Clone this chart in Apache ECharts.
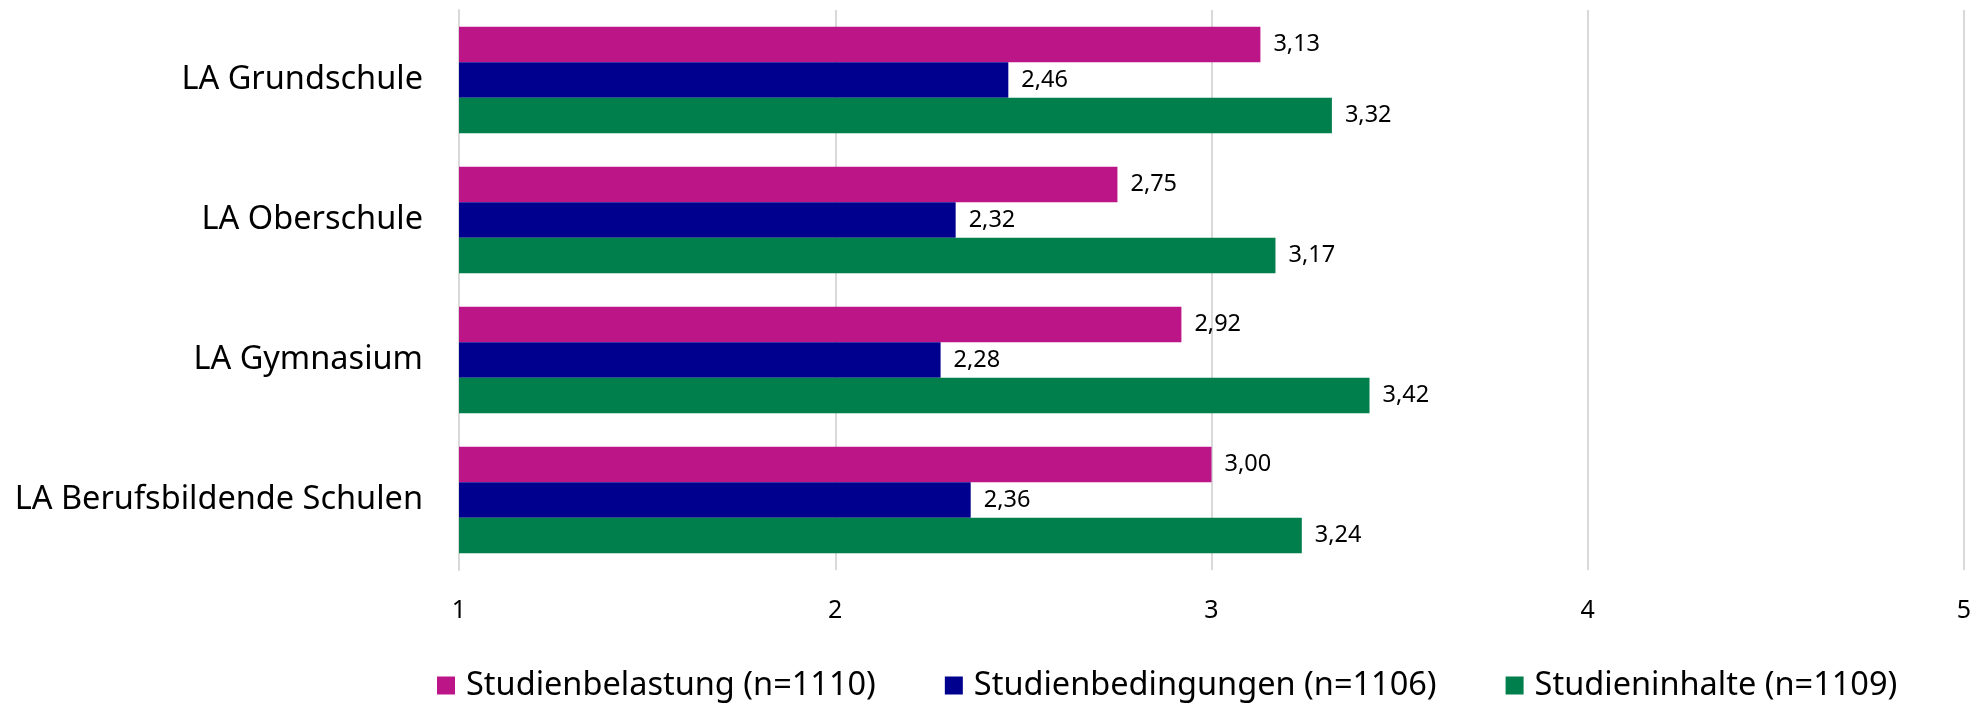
<!DOCTYPE html>
<html><head><meta charset="utf-8">
<script src="https://cdn.jsdelivr.net/npm/echarts@6/dist/echarts.min.js"></script>
<style>html,body{margin:0;padding:0;background:#fff}#c{width:1988px;height:707px}</style>
</head><body><div id="c"></div>
<script>
const categories = ['LA Grundschule', 'LA Oberschule', 'LA Gymnasium', 'LA Berufsbildende Schulen'];
const seriesNames = ['Studienbelastung (n=1110)', 'Studienbedingungen (n=1106)', 'Studieninhalte (n=1109)'];
const belastung = [3.13, 2.75, 2.92, 3.00];
const bedingungen = [2.46, 2.32, 2.28, 2.36];
const inhalte = [3.32, 3.17, 3.42, 3.24];
const colors = ['#BC1588', '#00008F', '#007E4C'];
const ticks = [1, 2, 3, 4, 5];

const FONT = 'Noto Sans';
const chart = echarts.init(document.getElementById('c'));
const mk = (name, data, color) => ({
  name, type: 'bar', data, barCategoryGap: '24%', barGap: '0%',
  itemStyle: { color },
  label: { show: true, position: 'right', distance: 13, color: '#000', fontFamily: FONT, fontSize: 23.5,
    formatter: p => p.value.toFixed(2).replace('.', ',') }
});
chart.setOption({
  animation: false,
  textStyle: { fontFamily: FONT },
  grid: { left: 459, right: 24, top: 10, height: 560, containLabel: false },
  legend: {
    left: 432, bottom: 0, itemWidth: 18, itemHeight: 18, itemGap: 69,
    icon: 'rect',
    textStyle: { fontFamily: FONT, fontSize: 32.5, color: '#000', padding: [0, 0, 0, 6] },
    data: seriesNames
  },
  xAxis: {
    type: 'value', min: ticks[0], max: ticks[ticks.length - 1], interval: 1,
    axisLine: { show: false }, axisTick: { show: false },
    splitLine: { show: true, lineStyle: { color: '#D9D9D9', width: 2 } },
    axisLabel: { color: '#000', fontFamily: FONT, fontSize: 25, margin: 28 }
  },
  yAxis: {
    type: 'category', data: categories, inverse: true,
    axisLine: { show: true, lineStyle: { color: '#D9D9D9', width: 2 } },
    axisTick: { show: false },
    axisLabel: { color: '#000', fontFamily: FONT, fontSize: 32.5, margin: 36 }
  },
  series: [mk(seriesNames[0], belastung, colors[0]), mk(seriesNames[1], bedingungen, colors[1]), mk(seriesNames[2], inhalte, colors[2])]
});
</script></body></html>
